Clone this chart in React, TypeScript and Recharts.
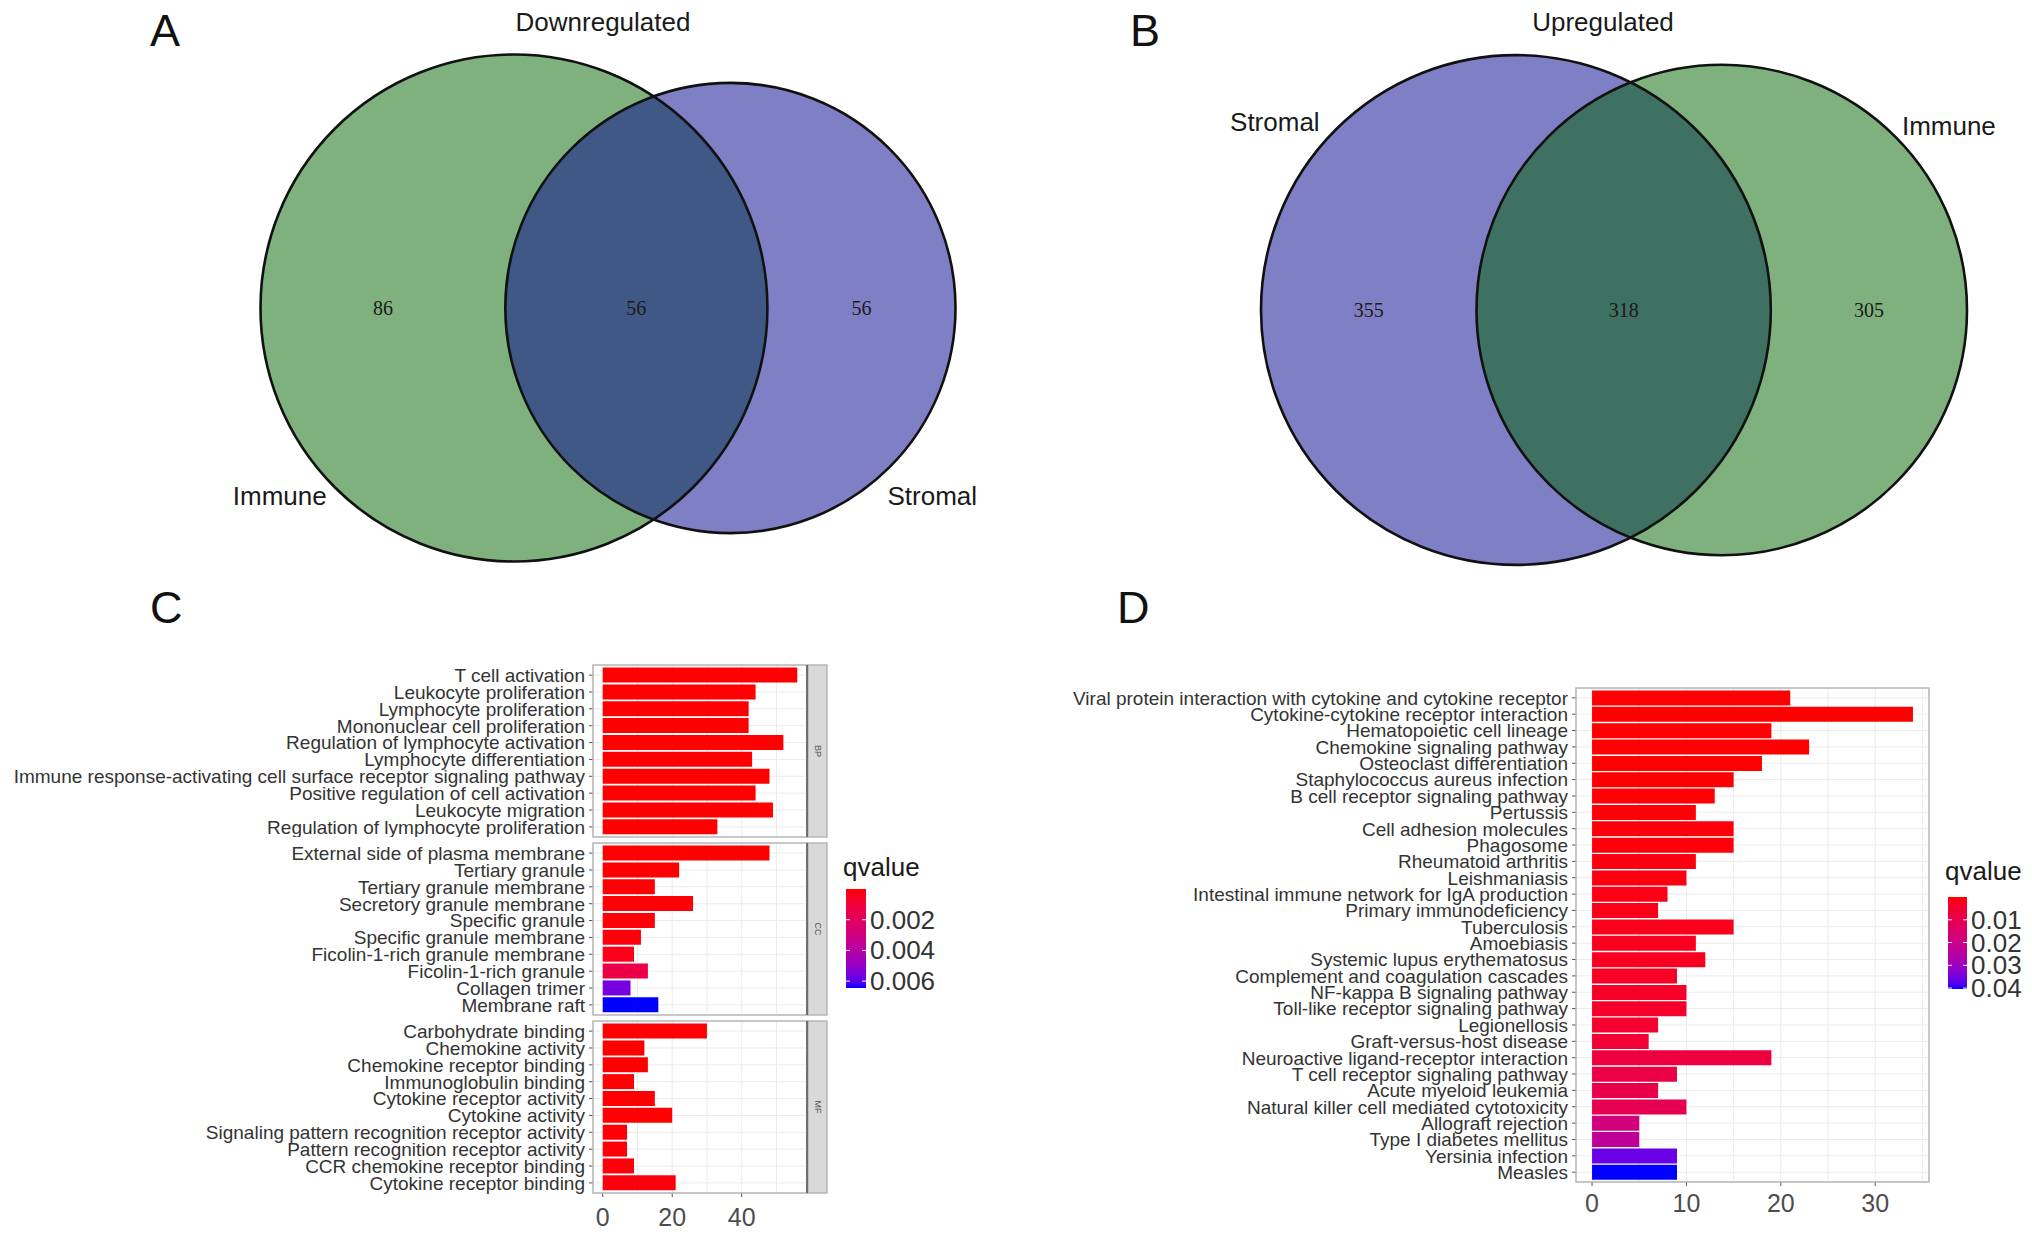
import React from 'react';
import { BarChart, Bar, XAxis, YAxis, CartesianGrid, Cell, ScatterChart, Scatter } from 'recharts';

const SANS = '"Liberation Sans", Arial, Helvetica, sans-serif';
const SERIF = '"Liberation Serif", "Times New Roman", serif';

// ---- Venn counts (A: downregulated, B: upregulated)
const downSets = ['Immune', 'Stromal'];
const downOnly = [86, 56];
const downShared = 56;
const upSets = ['Stromal', 'Immune'];
const upOnly = [355, 305];
const upShared = 318;

// ---- GO enrichment (C)
const bpTerms = [
  'T cell activation',
  'Leukocyte proliferation',
  'Lymphocyte proliferation',
  'Mononuclear cell proliferation',
  'Regulation of lymphocyte activation',
  'Lymphocyte differentiation',
  'Immune response-activating cell surface receptor signaling pathway',
  'Positive regulation of cell activation',
  'Leukocyte migration',
  'Regulation of lymphocyte proliferation',
];
const bpCounts = [56, 44, 42, 42, 52, 43, 48, 44, 49, 33];
const bpQ = [1e-14, 3e-11, 5e-11, 5e-11, 2e-12, 1e-10, 4e-10, 6e-10, 1e-9, 2e-9];

const ccTerms = [
  'External side of plasma membrane',
  'Tertiary granule',
  'Tertiary granule membrane',
  'Secretory granule membrane',
  'Specific granule',
  'Specific granule membrane',
  'Ficolin-1-rich granule membrane',
  'Ficolin-1-rich granule',
  'Collagen trimer',
  'Membrane raft',
];
const ccCounts = [48, 22, 15, 26, 15, 11, 9, 13, 8, 16];
const ccQ = [3e-12, 1e-7, 2e-5, 5e-5, 8e-5, 1e-4, 3e-4, 0.0014, 0.0056, 0.00645];

const mfTerms = [
  'Carbohydrate binding',
  'Chemokine activity',
  'Chemokine receptor binding',
  'Immunoglobulin binding',
  'Cytokine receptor activity',
  'Cytokine activity',
  'Signaling pattern recognition receptor activity',
  'Pattern recognition receptor activity',
  'CCR chemokine receptor binding',
  'Cytokine receptor binding',
];
const mfCounts = [30, 12, 13, 9, 15, 20, 7, 7, 9, 21];
const mfQ = [1e-8, 2e-6, 5e-6, 1e-5, 2e-5, 3e-5, 6e-5, 8e-5, 1e-4, 1.5e-4];

const goCountTicks = [0, 20, 40];
const goGridTicks = [0, 10, 20, 30, 40, 50];
const goQTicks = [0.002, 0.004, 0.006];

// ---- KEGG enrichment (D)
const keggTerms = [
  'Viral protein interaction with cytokine and cytokine receptor',
  'Cytokine-cytokine receptor interaction',
  'Hematopoietic cell lineage',
  'Chemokine signaling pathway',
  'Osteoclast differentiation',
  'Staphylococcus aureus infection',
  'B cell receptor signaling pathway',
  'Pertussis',
  'Cell adhesion molecules',
  'Phagosome',
  'Rheumatoid arthritis',
  'Leishmaniasis',
  'Intestinal immune network for IgA production',
  'Primary immunodeficiency',
  'Tuberculosis',
  'Amoebiasis',
  'Systemic lupus erythematosus',
  'Complement and coagulation cascades',
  'NF-kappa B signaling pathway',
  'Toll-like receptor signaling pathway',
  'Legionellosis',
  'Graft-versus-host disease',
  'Neuroactive ligand-receptor interaction',
  'T cell receptor signaling pathway',
  'Acute myeloid leukemia',
  'Natural killer cell mediated cytotoxicity',
  'Allograft rejection',
  'Type I diabetes mellitus',
  'Yersinia infection',
  'Measles',
];
const keggCounts = [21, 34, 19, 23, 18, 15, 13, 11, 15, 15, 11, 10, 8, 7, 15, 11, 12, 9, 10, 10, 7, 6, 19, 9, 7, 10, 5, 5, 9, 9];
const keggQ = [
  1.5e-6, 2e-6, 1e-5, 2e-5, 4e-5, 1e-4, 2e-4, 5e-4, 6e-4, 7e-4,
  1e-3, 1.2e-3, 1.5e-3, 1.8e-3, 2.2e-3, 2.6e-3, 3e-3, 3.4e-3, 3.8e-3, 4.2e-3,
  4.8e-3, 5.5e-3, 7.5e-3, 8.5e-3, 9.2e-3, 0.0105, 0.018, 0.023, 0.0362, 0.0404,
];
const keggCountTicks = [0, 10, 20, 30];
const keggGridTicks = [0, 5, 10, 15, 20, 25, 30, 35];
const keggQTicks = [0.01, 0.02, 0.03, 0.04];

// ---- red -> blue gradient in CIELAB (like ggplot's continuous scale)
const lin = (c: number) => {
  c /= 255;
  return c <= 0.04045 ? c / 12.92 : Math.pow((c + 0.055) / 1.055, 2.4);
};
const gam = (c: number) => {
  const v = c <= 0.0031308 ? 12.92 * c : 1.055 * Math.pow(Math.max(c, 0), 1 / 2.4) - 0.055;
  return Math.round(Math.max(0, Math.min(1, v)) * 255);
};
const fLab = (t: number) => (t > 216 / 24389 ? Math.cbrt(t) : ((24389 / 27) * t + 16) / 116);
const fInv = (t: number) => (t * t * t > 216 / 24389 ? t * t * t : (116 * t - 16) / (24389 / 27));
function rgbToLab(rgb: number[]) {
  const R = lin(rgb[0]), G = lin(rgb[1]), B = lin(rgb[2]);
  const x = (0.4124564 * R + 0.3575761 * G + 0.1804375 * B) / 0.95047;
  const y = 0.2126729 * R + 0.7151522 * G + 0.072175 * B;
  const z = (0.0193339 * R + 0.119192 * G + 0.9503041 * B) / 1.08883;
  const fx = fLab(x), fy = fLab(y), fz = fLab(z);
  return [116 * fy - 16, 500 * (fx - fy), 200 * (fy - fz)];
}
function labToRgb(lab: number[]) {
  const fy = (lab[0] + 16) / 116, fx = fy + lab[1] / 500, fz = fy - lab[2] / 200;
  const x = 0.95047 * fInv(fx), y = fInv(fy), z = 1.08883 * fInv(fz);
  const R = 3.2404542 * x - 1.5371385 * y - 0.4985314 * z;
  const G = -0.969266 * x + 1.8760108 * y + 0.041556 * z;
  const B = 0.0556434 * x - 0.2040259 * y + 1.0572252 * z;
  return `rgb(${gam(R)},${gam(G)},${gam(B)})`;
}
const LOW_LAB = rgbToLab([255, 0, 0]);
const HIGH_LAB = rgbToLab([0, 0, 255]);
const mixColor = (t: number) => {
  const s = Math.max(0, Math.min(1, t));
  return labToRgb(LOW_LAB.map((v, i) => v + (HIGH_LAB[i] - v) * s));
};
const qColor = (q: number, lo: number, hi: number) => mixColor((q - lo) / (hi - lo));

const goAllQ = [...bpQ, ...ccQ, ...mfQ];
const goLo = Math.min(...goAllQ);
const goHi = Math.max(...goAllQ);
const keggLo = Math.min(...keggQ);
const keggHi = Math.max(...keggQ);

const goMax = Math.max(...bpCounts, ...ccCounts, ...mfCounts);
const goDomain = [-0.05 * goMax, 1.05 * goMax];
const keggMax = Math.max(...keggCounts);
const keggDomain = [-0.05 * keggMax, 1.05 * keggMax];

// ---- Venn geometry (area proportional)
function lensArea(r1: number, r2: number, d: number) {
  if (d >= r1 + r2) return 0;
  if (d <= Math.abs(r1 - r2)) return Math.PI * Math.min(r1, r2) ** 2;
  const a1 = Math.acos((d * d + r1 * r1 - r2 * r2) / (2 * d * r1));
  const a2 = Math.acos((d * d + r2 * r2 - r1 * r1) / (2 * d * r2));
  const k = Math.sqrt((-d + r1 + r2) * (d + r1 - r2) * (d - r1 + r2) * (d + r1 + r2));
  return r1 * r1 * a1 + r2 * r2 * a2 - 0.5 * k;
}
function vennLayout(only: number[], shared: number, fitWidth: number, cx: number, cy: number) {
  const r1u = Math.sqrt((only[0] + shared) / Math.PI);
  const r2u = Math.sqrt((only[1] + shared) / Math.PI);
  let lo = Math.abs(r1u - r2u), hi = r1u + r2u;
  for (let i = 0; i < 80; i++) {
    const mid = (lo + hi) / 2;
    if (lensArea(r1u, r2u, mid) > shared) lo = mid; else hi = mid;
  }
  const du = (lo + hi) / 2;
  const k = fitWidth / (r1u + du + r2u);
  const r1 = r1u * k, r2 = r2u * k, d = du * k;
  const left = cx - fitWidth / 2;
  const c1 = left + r1, c2 = c1 + d;
  return {
    circles: [{ x: c1, y: cy, r: r1 }, { x: c2, y: cy, r: r2 }],
    counts: [
      { x: (left + (c2 - r2)) / 2, y: cy, value: only[0] },
      { x: (c2 - r2 + (c1 + r1)) / 2, y: cy, value: shared },
      { x: (c1 + r1 + (c2 + r2)) / 2, y: cy, value: only[1] },
    ],
  };
}

function VennPanel({ left, sets, only, shared, fills, center, fitWidth, catAngles, catDist }: any) {
  const v = vennLayout(only, shared, fitWidth, center[0], center[1]);
  const circles = v.circles.map((c, i) => ({ ...c, fill: fills[i] }));
  const cats = circles.map((c, i) => {
    const a = (catAngles[i] * Math.PI) / 180;
    const dist = c.r + catDist[i];
    return { x: c.x + dist * Math.sin(a), y: c.y - dist * Math.cos(a), label: sets[i] };
  });
  return (
    <div style={{ position: 'absolute', left, top: 0 }}>
      <ScatterChart width={1016} height={620} margin={{ top: 0, right: 0, bottom: 0, left: 0 }}>
        <XAxis type="number" dataKey="x" domain={[0, 1016]} hide allowDataOverflow />
        <YAxis type="number" dataKey="y" domain={[0, 620]} reversed hide allowDataOverflow />
        <Scatter
          data={circles}
          isAnimationActive={false}
          shape={(p: any) => <circle cx={p.cx} cy={p.cy} r={p.payload.r} fill={p.payload.fill} fillOpacity={0.5} stroke="none" />}
        />
        <Scatter
          data={circles}
          isAnimationActive={false}
          shape={(p: any) => <circle cx={p.cx} cy={p.cy} r={p.payload.r} fill="none" stroke="#111" strokeWidth={2.6} />}
        />
        <Scatter
          data={v.counts}
          isAnimationActive={false}
          shape={(p: any) => (
            <text x={p.cx} y={p.cy} textAnchor="middle" dominantBaseline="central" fontSize={20} fontFamily={SERIF} fill="#1a1a1a">
              {p.payload.value}
            </text>
          )}
        />
        <Scatter
          data={cats}
          isAnimationActive={false}
          shape={(p: any) => (
            <text x={p.cx} y={p.cy} textAnchor="middle" dominantBaseline="central" fontSize={26} fontFamily={SANS} fill="#1a1a1a">
              {p.payload.label}
            </text>
          )}
        />
      </ScatterChart>
    </div>
  );
}

const TermTick = (props: any) => {
  const { x, y, payload } = props;
  return (
    <text x={x} y={y} dy="0.36em" textAnchor="end" fontSize={19} fill="#333" fontFamily={SANS}>
      {payload.value}
    </text>
  );
};

function EnrichBars({ left, top, width, axisWidth, plotH, rows, domain, gridTicks, countTicks, lo, hi, showAxis, tickMargin }: any) {
  const pad = (0.1 * plotH) / (rows.length + 0.2);
  const axisH = showAxis ? 44 : 0;
  return (
    <div style={{ position: 'absolute', left, top }}>
      <BarChart
        layout="vertical"
        width={width}
        height={plotH + axisH}
        data={rows}
        margin={{ top: 0, right: 0, bottom: 0, left: 0 }}
        barCategoryGap="5%"
      >
        <CartesianGrid stroke="#ebebeb" strokeWidth={1} xAxisId="grid" />
        <XAxis xAxisId="grid" type="number" domain={domain} ticks={gridTicks} hide allowDataOverflow />
        <XAxis
          type="number"
          domain={domain}
          ticks={countTicks}
          hide={!showAxis}
          height={axisH || 30}
          allowDataOverflow
          axisLine={false}
          tickLine={{ stroke: '#555' }}
          tickSize={4}
          tickMargin={tickMargin}
          tick={{ fontSize: 25, fill: '#4d4d4d', fontFamily: SANS }}
        />
        <YAxis
          type="category"
          dataKey="term"
          width={axisWidth}
          interval={0}
          axisLine={false}
          tickLine={{ stroke: '#555' }}
          tickSize={4}
          tickMargin={4}
          tick={TermTick}
          padding={{ top: pad, bottom: pad }}
        />
        <Bar dataKey="count" isAnimationActive={false}>
          {rows.map((r: any, i: number) => (
            <Cell key={i} fill={qColor(r.q, lo, hi)} />
          ))}
        </Bar>
      </BarChart>
    </div>
  );
}

function ColorBar({ id, x, y, w, h, lo, hi, ticks, titleY }: any) {
  const stops = Array.from({ length: 26 }, (_, i) => i / 25);
  return (
    <g>
      <defs>
        <linearGradient id={id} x1="0" y1="0" x2="0" y2="1">
          {stops.map((s) => (
            <stop key={s} offset={s} stopColor={mixColor(s)} />
          ))}
        </linearGradient>
      </defs>
      <text x={x - 3} y={titleY} fontSize={26} fill="#1a1a1a" fontFamily={SANS}>
        qvalue
      </text>
      <rect x={x} y={y} width={w} height={h} fill={`url(#${id})`} />
      {ticks.map((t: number) => {
        const ty = y + ((t - lo) / (hi - lo)) * h;
        return (
          <g key={t}>
            <line x1={x} x2={x + 4} y1={ty} y2={ty} stroke="#fff" strokeWidth={1} />
            <line x1={x + w - 4} x2={x + w} y1={ty} y2={ty} stroke="#fff" strokeWidth={1} />
            <text x={x + w + 4} y={ty} dominantBaseline="central" fontSize={26} fill="#333" fontFamily={SANS}>
              {t}
            </text>
          </g>
        );
      })}
    </g>
  );
}

const toRows = (terms: string[], counts: number[], q: number[]) =>
  terms.map((term, i) => ({ term, count: counts[i], q: q[i] }));

const goFacets = [
  { name: 'BP', rows: toRows(bpTerms, bpCounts, bpQ), top: 665 },
  { name: 'CC', rows: toRows(ccTerms, ccCounts, ccQ), top: 843 },
  { name: 'MF', rows: toRows(mfTerms, mfCounts, mfQ), top: 1021 },
];
const keggRows = toRows(keggTerms, keggCounts, keggQ);

const FACET_H = 172;
const GO_PLOT_L = 593;
const GO_PLOT_R = 807;
const KEGG_LEFT = 1016;
const KEGG_AXIS_W = 560;
const KEGG_W = 913;
const KEGG_TOP = 688;
const KEGG_H = 494;

export default function App() {
  return (
    <div style={{ position: 'absolute', left: 0, top: 0, width: 2032, height: 1238, background: '#fff', overflow: 'hidden' }}>
      <VennPanel
        left={0}
        sets={downSets}
        only={downOnly}
        shared={downShared}
        fills={['#006400', '#00008b']}
        center={[608, 308]}
        fitWidth={695}
        catAngles={[-128.8, 133]}
        catDist={[47, 51]}
      />
      <VennPanel
        left={1016}
        sets={upSets}
        only={upOnly}
        shared={upShared}
        fills={['#00008b', '#006400']}
        center={[598, 310]}
        fitWidth={706}
        catAngles={[-52, 51]}
        catDist={[51, 47]}
      />

      {goFacets.map((f, i) => (
        <EnrichBars
          key={f.name}
          left={0}
          top={f.top}
          width={GO_PLOT_R}
          axisWidth={GO_PLOT_L}
          plotH={FACET_H}
          rows={f.rows}
          domain={goDomain}
          gridTicks={goGridTicks}
          countTicks={goCountTicks}
          lo={goLo}
          hi={goHi}
          showAxis={i === goFacets.length - 1}
          tickMargin={11}
        />
      ))}

      <EnrichBars
        left={KEGG_LEFT}
        top={KEGG_TOP}
        width={KEGG_W}
        axisWidth={KEGG_AXIS_W}
        plotH={KEGG_H}
        rows={keggRows}
        domain={keggDomain}
        gridTicks={keggGridTicks}
        countTicks={keggCountTicks}
        lo={keggLo}
        hi={keggHi}
        showAxis
        tickMargin={8}
      />

      <svg width={2032} height={1238} style={{ position: 'absolute', left: 0, top: 0, pointerEvents: 'none' }}>
        <g fontFamily={SANS} fill="#111">
          <text x={150} y={46} fontSize={45}>A</text>
          <text x={1130} y={46} fontSize={45}>B</text>
          <text x={150} y={623} fontSize={45}>C</text>
          <text x={1117} y={623} fontSize={45}>D</text>
          <text x={603} y={31} fontSize={26} textAnchor="middle" fill="#1a1a1a">Downregulated</text>
          <text x={1603} y={31} fontSize={26} textAnchor="middle" fill="#1a1a1a">Upregulated</text>
        </g>

        {goFacets.map((f) => (
          <g key={f.name}>
            <rect x={GO_PLOT_L} y={f.top} width={GO_PLOT_R - GO_PLOT_L} height={FACET_H} fill="none" stroke="#b3b3b3" strokeWidth={1.4} />
            <rect x={GO_PLOT_R + 1} y={f.top} width={19} height={FACET_H} fill="#d9d9d9" stroke="#b3b3b3" strokeWidth={1.4} />
            <line x1={GO_PLOT_R} x2={GO_PLOT_R} y1={f.top} y2={f.top + FACET_H} stroke="#666" strokeWidth={1.8} />
            <text
              x={GO_PLOT_R + 10.5}
              y={f.top + FACET_H / 2}
              fontSize={9}
              fill="#555"
              fontFamily={SANS}
              textAnchor="middle"
              dominantBaseline="central"
              transform={`rotate(90 ${GO_PLOT_R + 10.5} ${f.top + FACET_H / 2})`}
            >
              {f.name}
            </text>
          </g>
        ))}
        <rect x={KEGG_LEFT + KEGG_AXIS_W} y={KEGG_TOP} width={KEGG_W - KEGG_AXIS_W} height={KEGG_H} fill="none" stroke="#b3b3b3" strokeWidth={1.4} />

        <ColorBar id="goBar" x={846} y={889} w={20} h={99} lo={goLo} hi={goHi} ticks={goQTicks} titleY={876} />
        <ColorBar id="keggBar" x={1948} y={897} w={19} h={92} lo={keggLo} hi={keggHi} ticks={keggQTicks} titleY={880} />
      </svg>
    </div>
  );
}
